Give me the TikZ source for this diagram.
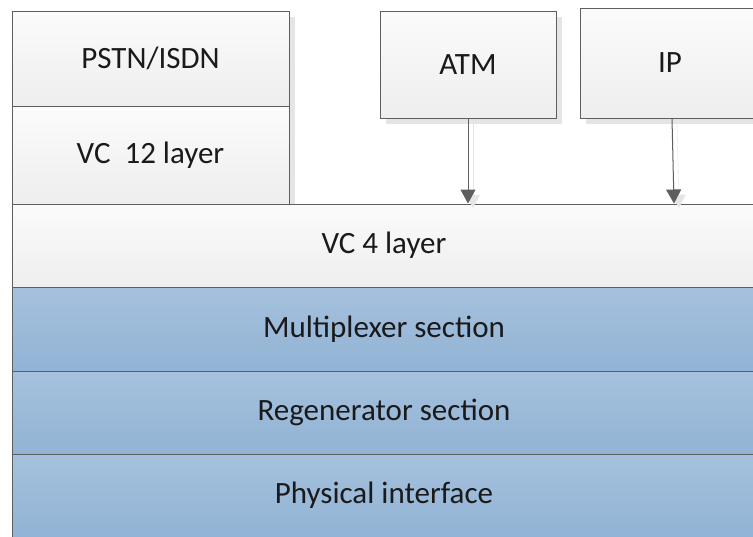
\documentclass[tikz,border=0pt]{standalone}
\usepackage{fontspec}
\setmainfont{Carlito}
\usetikzlibrary{arrows.meta,shadows}

\definecolor{edgegray}{HTML}{5E5E5E}
\definecolor{textblack}{HTML}{1A1A1A}
\definecolor{topwhite}{HTML}{FBFBFB}
\definecolor{botwhite}{HTML}{EEEEEE}
\definecolor{topblue}{HTML}{A5C1DD}
\definecolor{botblue}{HTML}{92B3D5}

\begin{document}
\begin{tikzpicture}[x=1pt,y=-1pt,
  layer/.style={draw=edgegray,line width=1pt,inner sep=0pt,text=textblack,font=\fontsize{31}{37}\selectfont},
  white layer/.style={layer,top color=topwhite,bottom color=botwhite},
  blue layer/.style={layer,top color=topblue,bottom color=botblue},
  upper/.style={white layer,drop shadow={shadow xshift=6pt,shadow yshift=-6pt,fill=black,opacity=.1}},
  feed/.style={draw=edgegray,line width=1pt,-{Triangle[width=15pt,length=14pt]},
    preaction={draw=black!10,transform canvas={xshift=5pt,yshift=-5pt}}}]
  \clip (0,0) rectangle (753,536);
  \fill[white] (0,0) rectangle (753,536);
  % client layers
  \node[upper,minimum width=277pt,minimum height=95pt] (pstn) at (150.5,58.5) {PSTN/ISDN};
  \node[upper,minimum width=277pt,minimum height=98pt] (vctwelve) at (150.5,155) {VC\ \ 12 layer};
  \node[upper,minimum width=176pt,minimum height=107pt] (atm) at (468,64.5) {ATM};
  \node[upper,minimum width=180pt,minimum height=110pt] (ip) at (670,63) {IP};
  % transport layers
  \node[white layer,minimum width=744pt,minimum height=83pt] (vcfour) at (384,245.5) {VC 4 layer};
  \node[blue layer,minimum width=744pt,minimum height=84pt] (mux) at (384,329) {Multiplexer section};
  \node[blue layer,minimum width=744pt,minimum height=83pt] (reg) at (384,412.5) {Regenerator section};
  \node[blue layer,minimum width=744pt,minimum height=83pt] (phy) at (384,495.5) {Physical interface};
  \draw[feed] (atm) -- (atm |- vcfour.north);
  \draw[feed] ([xshift=2pt]ip.south) -- ([xshift=4pt]ip.south |- vcfour.north);
\end{tikzpicture}
\end{document}
